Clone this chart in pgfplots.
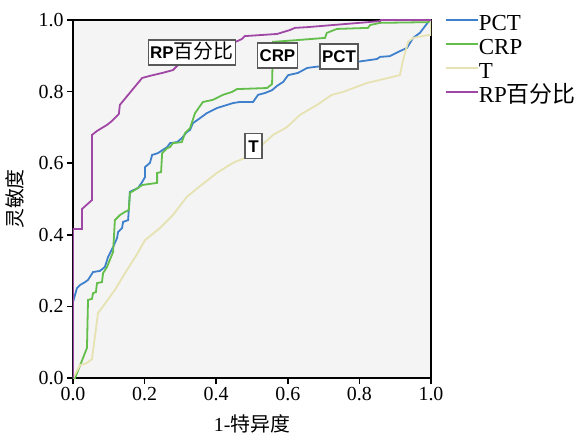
\documentclass[border=0pt]{standalone}
\usepackage{pgfplots}
\pgfplotsset{compat=1.18}
\usepackage{fontspec}
\setmainfont{Liberation Serif}
\newfontfamily\cjk{Noto Sans CJK SC}
\newfontfamily\labfont{Liberation Sans}
\definecolor{cPCT}{RGB}{62,128,204}
\definecolor{cCRP}{RGB}{100,190,75}
\definecolor{cT}{RGB}{230,226,178}
\definecolor{cRP}{RGB}{160,70,165}
\definecolor{bg}{RGB}{244,244,244}
\begin{document}
\begin{tikzpicture}
\useasboundingbox (-73bp,-58bp) rectangle (512bp,378bp);
\begin{axis}[
  at={(0,0)}, anchor=south west,
  scale only axis, width=358bp, height=358bp,
  xmin=0, xmax=1, ymin=0, ymax=1,
  axis background/.style={fill=bg},
  axis line style={line width=1.6bp, black},
  xtick={0,0.2,0.4,0.6,0.8,1.0},
  ytick={0,0.2,0.4,0.6,0.8,1.0},
  tick align=outside, major tick length=6bp,
  xtick pos=bottom, ytick pos=left,
  tick style={line width=1.5bp, black},
  /pgf/number format/assume math mode=true,
  xticklabel style={/pgf/number format/.cd, fixed, fixed zerofill, precision=1},
  yticklabel style={/pgf/number format/.cd, fixed, fixed zerofill, precision=1},
  tick label style={font=\fontsize{20}{22}\selectfont},
  xlabel={1-{\cjk 特异度}},
  ylabel={{\cjk 灵敏度}},
  label style={font=\fontsize{20}{22}\selectfont},
  xlabel style={at={(axis description cs:0.5,-0.128)}, anchor=center},
  ylabel style={at={(axis description cs:-0.162,0.5)}, anchor=center},
  legend style={at={(axis description cs:1.039,1.019)}, anchor=north west,
    draw=none, fill=none, inner sep=0pt, row sep=0pt,
    font=\fontsize{23}{24}\selectfont,
    nodes={text height=17bp, text depth=7bp, inner sep=0pt, anchor=west},
    /tikz/every even column/.append style={column sep=10bp}},
  legend cell align=left,
  legend image code/.code={\draw[#1] (0bp,5bp) -- (32bp,5bp);},
  every axis plot/.append style={line width=1.8bp, mark=none},
]
% PCT
\addplot[cPCT] coordinates {
(0,0)(0,0.212)(0.011,0.251)(0.020,0.260)(0.034,0.268)(0.042,0.274)(0.056,0.296)
(0.075,0.299)(0.089,0.310)(0.098,0.338)(0.112,0.366)(0.123,0.391)(0.126,0.408)
(0.137,0.419)(0.140,0.436)(0.154,0.441)(0.159,0.520)(0.182,0.531)(0.193,0.547)
(0.201,0.561)(0.201,0.589)(0.215,0.601)(0.221,0.623)(0.237,0.628)(0.263,0.645)
(0.271,0.656)(0.291,0.659)(0.304,0.670)(0.318,0.687)(0.327,0.693)(0.335,0.712)
(0.355,0.726)(0.374,0.740)(0.402,0.754)(0.447,0.768)(0.466,0.771)(0.503,0.771)
(0.517,0.791)(0.536,0.796)(0.556,0.804)(0.570,0.816)(0.587,0.827)(0.601,0.846)
(0.628,0.852)(0.654,0.866)(0.676,0.869)(0.746,0.877)(0.807,0.885)(0.849,0.891)
(0.858,0.897)(0.885,0.899)(0.913,0.913)(0.933,0.922)(0.950,0.950)(0.969,0.964)
(0.992,0.994)(1,1)};
\addlegendentry{PCT}
% CRP
\addplot[cCRP] coordinates {
(0,0)(0.006,0)(0.039,0.084)(0.042,0.218)(0.053,0.221)(0.056,0.237)(0.064,0.240)
(0.067,0.265)(0.081,0.268)(0.084,0.293)(0.095,0.310)(0.103,0.330)(0.112,0.352)
(0.117,0.441)(0.131,0.455)(0.145,0.464)(0.156,0.469)(0.159,0.517)(0.182,0.531)
(0.193,0.539)(0.235,0.545)(0.235,0.573)(0.246,0.575)(0.249,0.628)(0.263,0.642)
(0.271,0.645)(0.279,0.656)(0.304,0.659)(0.313,0.684)(0.327,0.698)(0.341,0.740)
(0.355,0.760)(0.363,0.771)(0.391,0.777)(0.419,0.791)(0.444,0.799)(0.458,0.807)
(0.542,0.810)(0.556,0.821)(0.559,0.939)(0.628,0.944)(0.704,0.950)(0.709,0.964)
(0.737,0.975)(0.824,0.978)(0.830,0.986)(0.858,0.992)(0.992,0.994)(1,1)};
\addlegendentry{CRP}
% T
\addplot[cT] coordinates {
(0,0)(0.020,0.036)(0.039,0.042)(0.053,0.053)(0.070,0.182)(0.081,0.196)
(0.117,0.246)(0.151,0.302)(0.179,0.346)(0.201,0.385)(0.243,0.419)(0.279,0.455)
(0.318,0.506)(0.355,0.536)(0.402,0.573)(0.447,0.601)(0.486,0.617)(0.528,0.651)
(0.559,0.679)(0.598,0.701)(0.634,0.735)(0.682,0.763)(0.723,0.791)(0.754,0.799)
(0.821,0.824)(0.913,0.846)(0.922,0.888)(0.936,0.939)(0.950,0.950)(0.992,0.958)
(1,0.958)(1,1)};
\addlegendentry{T}
% RP
\addplot[cRP] coordinates {
(0,0)(0,0.416)(0.025,0.416)(0.025,0.472)(0.053,0.497)(0.053,0.679)(0.067,0.690)
(0.095,0.707)(0.109,0.718)(0.128,0.737)(0.131,0.763)(0.193,0.838)(0.215,0.844)
(0.249,0.852)(0.279,0.860)(0.293,0.874)(0.327,0.894)(0.383,0.916)(0.441,0.933)
(0.472,0.947)(0.480,0.955)(0.570,0.961)(0.606,0.972)(0.620,0.978)(0.654,0.980)
(0.824,0.994)(0.858,0.997)(0.860,1)(1,1)};
\addlegendentry{RP{\cjk 百分比}}
\tikzset{lbl/.style={draw=black!65, line width=1.4bp, fill=white,
  font=\labfont\bfseries\fontsize{17}{18}\selectfont, inner xsep=2bp,
  minimum height=25bp, text height=12.5bp, text depth=0.5bp}}
\node[lbl] at (axis cs:0.332,0.909) {RP{\cjk\mdseries\fontsize{20}{20}\selectfont 百分比}};
\node[lbl] at (axis cs:0.571,0.901) {CRP};
\node[lbl] at (axis cs:0.743,0.898) {PCT};
\node[lbl, minimum width=17bp] at (axis cs:0.504,0.648) {T};
\end{axis}
\end{tikzpicture}
\end{document}
